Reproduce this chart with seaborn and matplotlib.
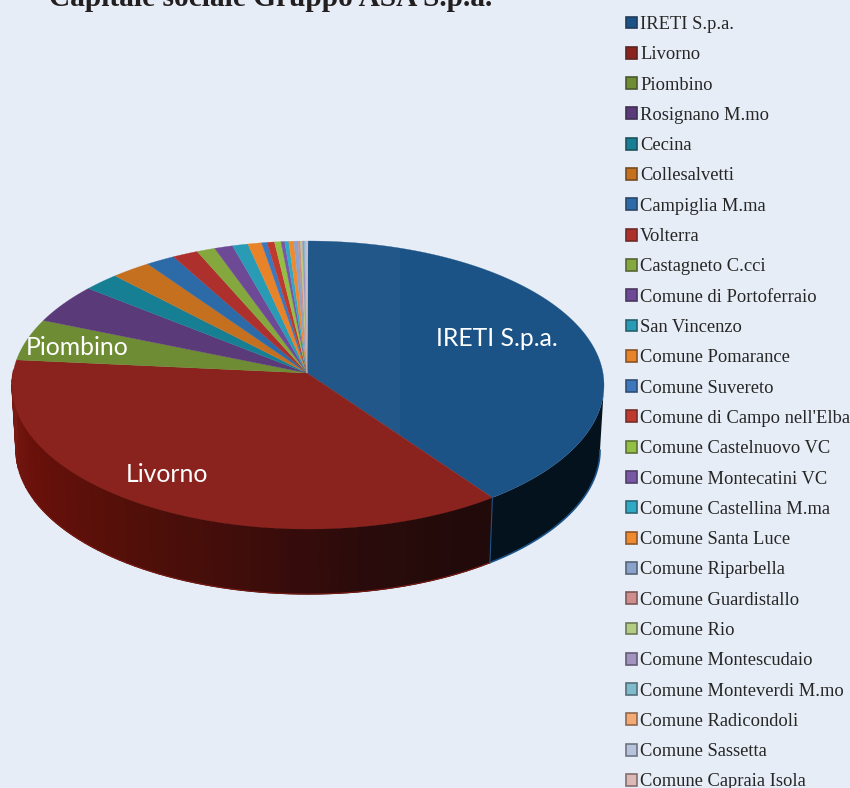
# 3D-style pie of the ASA share capital, drawn on seaborn palettes
import numpy as np
import seaborn as sns
import matplotlib.pyplot as plt
from matplotlib.patches import Patch

names = ['IRETI S.p.a.', 'Livorno', 'Piombino', 'Rosignano M.mo', 'Cecina', 'Collesalvetti',
         'Campiglia M.ma', 'Volterra', 'Castagneto C.cci', 'Comune di Portoferraio',
         'San Vincenzo', 'Comune Pomarance', 'Comune Suvereto', "Comune di Campo nell'Elba",
         'Comune Castelnuovo VC', 'Comune Montecatini VC', 'Comune Castellina M.ma',
         'Comune Santa Luce', 'Comune Riparbella', 'Comune Guardistallo', 'Comune Rio',
         'Comune Montescudaio', 'Comune Monteverdi M.mo', 'Comune Radicondoli',
         'Comune Sassetta', 'Comune Capraia Isola']
shares = [39.3, 38.5, 4.6, 4.3, 2.0, 2.2, 1.6, 1.4, 1.0, 1.0, 0.85, 0.75, 0.3, 0.4, 0.35,
          0.2, 0.22, 0.28, 0.22, 0.13, 0.11, 0.1, 0.05, 0.05, 0.05, 0.05]
colors = ['#1c5387', '#8a231e', '#6e8c33', '#5a3a78', '#167f94', '#c4701f', '#2c6aa8', '#ad302c',
          '#85a83e', '#6e4a96', '#2a9bb5', '#e8832a', '#3d77bd', '#c0392f', '#93bf45', '#7a57a5',
          '#2fa9c6', '#f08a2e', '#8aa3cb', '#cf8d8b', '#b4cd85', '#a293bf', '#80bacd', '#f4aa75',
          '#b7c3dc', '#dcb8b6']
pie_labels = {'IRETI S.p.a.': (497, 338), 'Livorno': (167, 474), 'Piombino': (77, 347)}

BG = '#e6edf6'
sns.set_theme(style='white', rc={'figure.facecolor': BG, 'axes.facecolor': BG})
palette = sns.color_palette(colors)

fig = plt.figure(figsize=(8.5, 7.88), dpi=100)
ax = fig.add_axes([0, 0, 1, 1])
ax.set_xlim(0, 850)
ax.set_ylim(788, 0)
ax.axis('off')

# ellipse of the top face, apex sits a bit above its centre (perspective)
cx, cy, rx, ry = 308, 385, 296, 144
apex = (307, 373)
depth, rx_low = 65, 292


def rim(t, low=False):
    if low:
        return cx + rx_low * np.sin(t), cy + depth - ry * np.cos(t)
    return cx + rx * np.sin(t), cy - ry * np.cos(t)


edges = np.radians(np.cumsum([0] + shares) / sum(shares) * 360)

# side wall: dark flat blue, then red getting darker to the right
t = np.linspace(np.pi / 2, edges[1], 60)
xt, yt = rim(t)
xb, yb = rim(t[::-1], low=True)
ax.fill(np.r_[xt, xb], np.r_[yt, yb], color='#04121e', lw=0)
ax.plot(*rim(t, low=True), color=colors[0], lw=1.2)
ax.plot([xt[-1], xb[0]], [yt[-1], yb[0]], color=colors[0], lw=0.8)

wall_steps = np.linspace(edges[1], np.radians(276), 71)
shade = sns.blend_palette(['#210a0a', '#2a0b0b', '#420d0a', '#561009', '#6a100a', '#7a1a14'], 70)
for i in range(70):
    t = np.linspace(wall_steps[i], wall_steps[i + 1], 4)
    xt, yt = rim(t)
    xb, yb = rim(t[::-1], low=True)
    ax.fill(np.r_[xt, xb], np.r_[yt, yb], facecolor=shade[i], edgecolor=shade[i], lw=0.9)
ax.plot(*rim(np.linspace(edges[1], np.radians(250), 40), low=True), color='#7a1a14', lw=0.8)

# top face
for i, col in enumerate(palette):
    t = np.linspace(edges[i], edges[i + 1], max(3, int((edges[i + 1] - edges[i]) * 80)))
    xt, yt = rim(t)
    wedge = ax.fill(np.r_[apex[0], xt], np.r_[apex[1], yt], color=col, lw=0.2)[0]
    if i == 0:
        # lighter tile on the left part of the blue slice
        ax.axvspan(300, 400, color='white', alpha=0.025, lw=0).set_clip_path(wedge)

for name, (x, y) in pie_labels.items():
    ax.text(x, y, name, color='white', family='Lato', fontsize=17.8, ha='center', va='center')

ax.text(49, 6, 'Capitale sociale Gruppo ASA S.p.a.', family='Liberation Serif', weight='bold',
        fontsize=21.2, color='#231f20', va='baseline')

handles = [Patch(facecolor=c, edgecolor=sns.dark_palette(c, 3)[1], lw=1.2) for c in palette]
ax.legend(handles, names, loc='upper left', bbox_to_anchor=(626 / 850, 1 - 16 / 788), frameon=False,
          prop={'family': 'Liberation Serif', 'size': 13.3}, labelcolor='#262626', borderpad=0,
          borderaxespad=0, labelspacing=0.72, handlelength=0.62, handleheight=0.62,
          handletextpad=0.14)

fig.savefig('out.png', dpi=100, facecolor=BG)
